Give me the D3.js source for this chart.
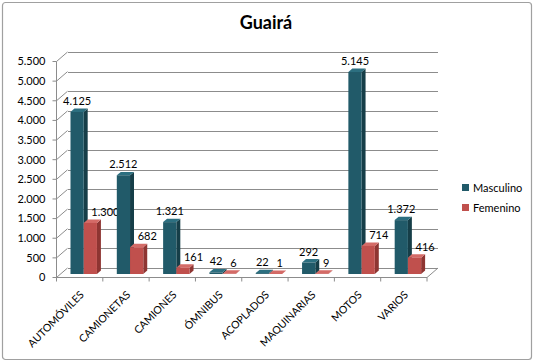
<!DOCTYPE html>
<html lang='es'>
<head>
<meta charset="utf-8">
<style>
body { margin: 0; background: #fff; }
text { font-family: Lato, "Open Sans", sans-serif; fill: #000; }
.grid line { stroke: #8c8c8c; stroke-width: 1; shape-rendering: crispEdges; }
.edge { stroke: #8c8c8c; stroke-width: 1; fill: none; }
</style>
</head>
<body>
<svg width="535" height="364"></svg>
<script src="https://cdn.jsdelivr.net/npm/d3@7"></script>
<script>
  var categories = ["AUTOMÓVILES", "CAMIONETAS", "CAMIONES", "ÓMNIBUS", "ACOPLADOS", "MAQUINARIAS", "MOTOS", "VARIOS"];
  var seriesNames = ["Masculino", "Femenino"];
  var masculino = [4125, 2512, 1321, 42, 22, 292, 5145, 1372];
  var femenino = [1300, 682, 161, 6, 1, 9, 714, 416];
  var yTicks = d3.range(0, 5501, 500);

  var colors = [
    { front: "#215a69", side: "#163e48", top: "#2c6f80" },
    { front: "#c0504d", side: "#8e3532", top: "#d46b67" }
  ];

  var fmt = d3.formatLocale({ decimal: ",", thousands: ".", grouping: [3], currency: ["", ""] }).format(",d");

  var svg = d3.select("svg");

  // chart border
  svg.append("rect")
      .attr("x", 2.5).attr("y", 2.5).attr("width", 529).attr("height", 357)
      .attr("rx", 3).attr("fill", "#fff").attr("stroke", "#a0a0a0").attr("stroke-width", 1.2);

  svg.append("text")
      .attr("x", 266).attr("y", 29)
      .attr("text-anchor", "middle")
      .style("font-size", "18px").style("font-weight", "bold")
      .text("Guairá");

  // 3d-ish frame: front plane + depth vector
  var left = 56.5, right = 427, floorY = 277.5,
      depthX = 11, depthY = -9.5;

  var y = d3.scaleLinear().domain([0, 5500]).range([floorY, floorY - 216]);
  var x = d3.scaleBand().domain(categories).range([left, right]).padding(0);
  var xs = d3.scaleBand().domain(seriesNames).range([0, x.bandwidth()]).paddingInner(0).paddingOuter(0.75);

  function px(xx, z) { return xx + z * depthX; }
  function py(v, z) { return y(v) + z * depthY; }

  // back wall gridlines
  var grid = svg.append("g").attr("class", "grid");
  grid.selectAll("line.h").data(yTicks).enter().append("line")
      .attr("x1", px(left, 1)).attr("x2", px(right, 1))
      .attr("y1", function(d) { return Math.round(py(d, 1)) + 0.5; })
      .attr("y2", function(d) { return Math.round(py(d, 1)) + 0.5; });

  // left wall diagonals
  svg.selectAll("line.diag").data(yTicks).enter().append("line")
      .attr("class", "edge")
      .attr("x1", left).attr("y1", function(d) { return y(d); })
      .attr("x2", px(left, 1)).attr("y2", function(d) { return py(d, 1); });

  // floor right edge
  svg.append("line").attr("class", "edge")
      .attr("x1", right).attr("y1", floorY).attr("x2", px(right, 1)).attr("y2", py(0, 1));

  // value axis (front)
  svg.append("line").attr("class", "edge")
      .attr("x1", left).attr("x2", left).attr("y1", y(0)).attr("y2", y(5500));
  svg.selectAll("line.ytick").data(yTicks).enter().append("line")
      .attr("class", "edge")
      .attr("x1", left - 4).attr("x2", left)
      .attr("y1", function(d) { return y(d); }).attr("y2", function(d) { return y(d); });
  svg.selectAll("text.ylab").data(yTicks).enter().append("text")
      .attr("x", left - 11).attr("y", function(d) { return y(d); })
      .attr("dy", "0.35em").attr("text-anchor", "end")
      .style("font-size", "11px")
      .text(function(d) { return fmt(d); });

  // category axis (front floor edge)
  svg.append("line").attr("class", "edge")
      .attr("x1", left).attr("x2", right).attr("y1", floorY).attr("y2", floorY);
  var bounds = categories.map(function(c) { return x(c); }).concat([right]);
  svg.selectAll("line.xtick").data(bounds).enter().append("line")
      .attr("class", "edge")
      .attr("x1", function(d) { return d; }).attr("x2", function(d) { return d; })
      .attr("y1", floorY).attr("y2", floorY + 4);
  svg.selectAll("text.xlab").data(categories).enter().append("text")
      .attr("text-anchor", "end")
      .attr("transform", function(c) {
        return "translate(" + (x(c) + x.bandwidth() / 2 + 5) + "," + (floorY + 18) + ") rotate(-45)";
      })
      .style("font-size", "10.5px")
      .text(function(c) { return c; });

  // bars
  var zf = 0.37, zb = 0.73;
  var rows = [];
  categories.forEach(function(c, i) {
    [masculino[i], femenino[i]].forEach(function(v, s) {
      rows.push({ cat: c, s: s, v: v, x0: x(c) + xs(seriesNames[s]), x1: x(c) + xs(seriesNames[s]) + xs.bandwidth() });
    });
  });

  function poly(pts) { return "M" + pts.map(function(p) { return p.join(","); }).join("L") + "Z"; }

  var bars = svg.selectAll("g.bar").data(rows).enter().append("g").attr("class", "bar");
  bars.append("path")
      .attr("fill", function(d) { return colors[d.s].side; })
      .attr("d", function(d) {
        return poly([[px(d.x1, zf), py(0, zf)], [px(d.x1, zb), py(0, zb)], [px(d.x1, zb), py(d.v, zb)], [px(d.x1, zf), py(d.v, zf)]]);
      });
  bars.append("path")
      .attr("fill", function(d) { return colors[d.s].top; })
      .attr("d", function(d) {
        return poly([[px(d.x0, zf), py(d.v, zf)], [px(d.x1, zf), py(d.v, zf)], [px(d.x1, zb), py(d.v, zb)], [px(d.x0, zb), py(d.v, zb)]]);
      });
  bars.append("path")
      .attr("fill", function(d) { return colors[d.s].front; })
      .attr("d", function(d) {
        return poly([[px(d.x0, zf), py(0, zf)], [px(d.x1, zf), py(0, zf)], [px(d.x1, zf), py(d.v, zf)], [px(d.x0, zf), py(d.v, zf)]]);
      });

  // data labels
  bars.append("text")
      .attr("x", function(d) {
        var c = px((d.x0 + d.x1) / 2, zf);
        return d.s === 0 ? c : c + 1;
      })
      .attr("y", function(d) { return py(d.v, zf) - 7; })
      .attr("text-anchor", function(d) { return d.s === 0 ? "middle" : "start"; })
      .style("font-size", "11px")
      .text(function(d) { return fmt(d.v); });

  // legend
  var legend = svg.selectAll("g.legend").data(seriesNames).enter().append("g")
      .attr("transform", function(d, i) { return "translate(462," + (184 + i * 20) + ")"; });
  legend.append("rect").attr("width", 7).attr("height", 7)
      .attr("fill", function(d, i) { return colors[i].front; });
  legend.append("text").attr("x", 11).attr("y", 4).attr("dy", "0.35em")
      .style("font-size", "11px")
      .text(function(d) { return d; });
</script>
</body>
</html>
